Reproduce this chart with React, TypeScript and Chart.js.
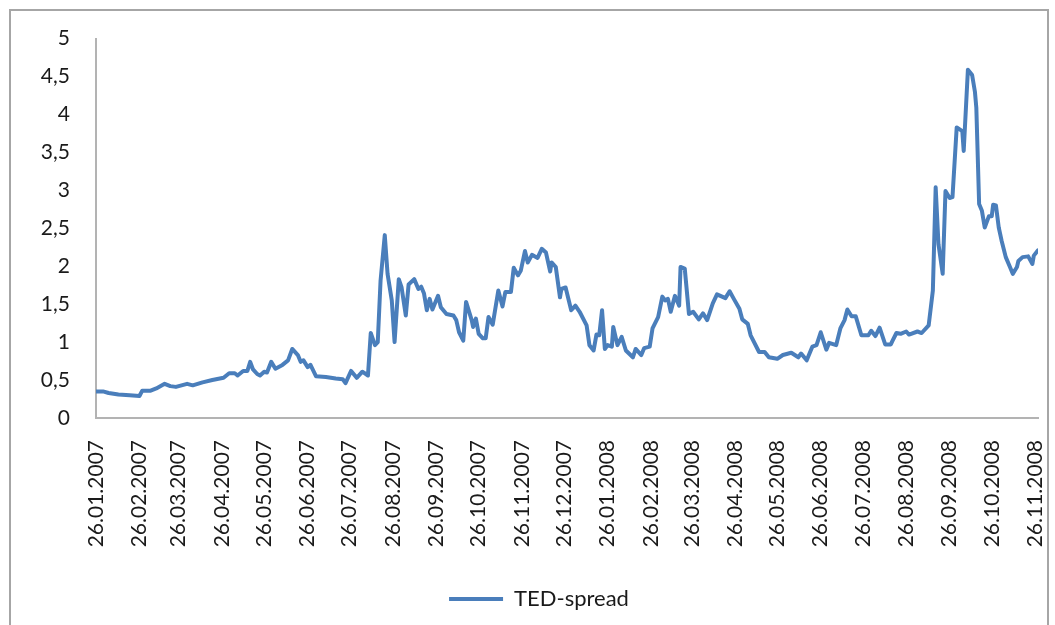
import React, { useEffect, useRef } from "react";
import { Chart, registerables } from "chart.js";

Chart.register(...registerables);

const seriesLabel = "TED-spread";

const dates: string[] = [
  "26.01.2007", "31.01.2007", "04.02.2007", "11.02.2007", "19.02.2007", "26.02.2007", "28.02.2007",
  "06.03.2007", "10.03.2007", "16.03.2007", "20.03.2007", "24.03.2007", "01.04.2007", "05.04.2007",
  "12.04.2007", "19.04.2007", "27.04.2007", "01.05.2007", "05.05.2007", "07.05.2007", "11.05.2007",
  "14.05.2007", "16.05.2007", "18.05.2007", "21.05.2007", "23.05.2007", "26.05.2007", "28.05.2007",
  "31.05.2007", "03.06.2007", "08.06.2007", "12.06.2007", "15.06.2007", "19.06.2007", "21.06.2007",
  "23.06.2007", "26.06.2007", "28.06.2007", "02.07.2007", "09.07.2007", "16.07.2007", "21.07.2007",
  "23.07.2007", "27.07.2007", "31.07.2007", "04.08.2007", "08.08.2007", "10.08.2007", "13.08.2007",
  "15.08.2007", "17.08.2007", "20.08.2007", "22.08.2007", "25.08.2007", "27.08.2007", "30.08.2007",
  "01.09.2007", "04.09.2007", "06.09.2007", "10.09.2007", "13.09.2007", "15.09.2007", "17.09.2007",
  "19.09.2007", "21.09.2007", "23.09.2007", "27.09.2007", "29.09.2007", "03.10.2007", "08.10.2007",
  "10.10.2007", "12.10.2007", "15.10.2007", "17.10.2007", "21.10.2007", "22.10.2007", "24.10.2007",
  "26.10.2007", "29.10.2007", "31.10.2007", "02.11.2007", "05.11.2007", "09.11.2007", "12.11.2007",
  "14.11.2007", "18.11.2007", "20.11.2007", "23.11.2007", "25.11.2007", "28.11.2007", "30.11.2007",
  "03.12.2007", "07.12.2007", "10.12.2007", "13.12.2007", "16.12.2007", "17.12.2007", "20.12.2007",
  "23.12.2007", "24.12.2007", "27.12.2007", "31.12.2007", "03.01.2008", "06.01.2008", "11.01.2008",
  "13.01.2008", "16.01.2008", "18.01.2008", "20.01.2008", "22.01.2008", "24.01.2008", "26.01.2008",
  "29.01.2008", "30.01.2008", "02.02.2008", "05.02.2008", "08.02.2008", "13.02.2008", "15.02.2008",
  "19.02.2008", "21.02.2008", "25.02.2008", "27.02.2008", "02.03.2008", "05.03.2008", "07.03.2008",
  "09.03.2008", "11.03.2008", "14.03.2008", "17.03.2008", "18.03.2008", "21.03.2008", "24.03.2008",
  "27.03.2008", "31.03.2008", "03.04.2008", "06.04.2008", "10.04.2008", "13.04.2008", "19.04.2008",
  "22.04.2008", "25.04.2008", "29.04.2008", "01.05.2008", "05.05.2008", "07.05.2008", "13.05.2008",
  "17.05.2008", "20.05.2008", "26.05.2008", "30.05.2008", "05.06.2008", "10.06.2008", "12.06.2008",
  "16.06.2008", "20.06.2008", "23.06.2008", "26.06.2008", "30.06.2008", "02.07.2008", "07.07.2008",
  "10.07.2008", "13.07.2008", "15.07.2008", "18.07.2008", "21.07.2008", "25.07.2008", "30.07.2008",
  "01.08.2008", "04.08.2008", "07.08.2008", "11.08.2008", "15.08.2008", "16.08.2008", "19.08.2008",
  "22.08.2008", "26.08.2008", "28.08.2008", "03.09.2008", "06.09.2008", "11.09.2008", "14.09.2008",
  "16.09.2008", "18.09.2008", "21.09.2008", "23.09.2008", "26.09.2008", "28.09.2008", "01.10.2008",
  "05.10.2008", "06.10.2008", "09.10.2008", "12.10.2008", "14.10.2008", "15.10.2008", "17.10.2008",
  "19.10.2008", "21.10.2008", "24.10.2008", "26.10.2008", "27.10.2008", "29.10.2008", "31.10.2008",
  "02.11.2008", "05.11.2008", "08.11.2008", "10.11.2008", "13.11.2008", "14.11.2008", "17.11.2008",
  "21.11.2008", "24.11.2008", "25.11.2008", "28.11.2008",
];

const tedSpread: number[] = [
  0.35, 0.35, 0.33, 0.31, 0.30, 0.29, 0.36,
  0.36, 0.39, 0.45, 0.42, 0.41, 0.45, 0.43,
  0.47, 0.50, 0.53, 0.59, 0.59, 0.56, 0.62,
  0.62, 0.74, 0.64, 0.58, 0.56, 0.61, 0.60,
  0.74, 0.65, 0.70, 0.76, 0.91, 0.83, 0.74,
  0.76, 0.67, 0.70, 0.55, 0.54, 0.52, 0.51,
  0.46, 0.62, 0.53, 0.61, 0.56, 1.12, 0.96,
  1.00, 1.81, 2.41, 1.90, 1.55, 1.00, 1.83,
  1.72, 1.35, 1.76, 1.83, 1.70, 1.73, 1.64,
  1.42, 1.57, 1.43, 1.61, 1.46, 1.37, 1.35,
  1.29, 1.13, 1.02, 1.53, 1.29, 1.20, 1.31,
  1.11, 1.05, 1.05, 1.33, 1.23, 1.68, 1.47,
  1.66, 1.66, 1.98, 1.88, 1.94, 2.20, 2.05,
  2.15, 2.11, 2.23, 2.18, 1.93, 2.05, 1.99,
  1.59, 1.70, 1.72, 1.42, 1.48, 1.40, 1.22,
  0.96, 0.89, 1.10, 1.09, 1.42, 0.91, 0.96,
  0.94, 1.20, 0.96, 1.07, 0.89, 0.80, 0.91,
  0.83, 0.92, 0.94, 1.18, 1.33, 1.60, 1.55,
  1.57, 1.40, 1.61, 1.48, 1.99, 1.97, 1.37,
  1.40, 1.30, 1.38, 1.29, 1.51, 1.63, 1.58,
  1.67, 1.57, 1.44, 1.30, 1.24, 1.09, 0.87,
  0.87, 0.80, 0.78, 0.83, 0.86, 0.80, 0.85,
  0.76, 0.94, 0.96, 1.13, 0.90, 0.99, 0.96,
  1.18, 1.29, 1.43, 1.34, 1.34, 1.09, 1.09,
  1.15, 1.08, 1.19, 0.97, 0.97, 1.01, 1.12,
  1.11, 1.14, 1.10, 1.14, 1.12, 1.22, 1.68,
  3.04, 2.29, 1.90, 2.99, 2.90, 2.91, 3.83,
  3.78, 3.52, 4.59, 4.52, 4.30, 4.09, 2.82,
  2.73, 2.51, 2.66, 2.66, 2.81, 2.80, 2.51,
  2.34, 2.12, 1.99, 1.90, 1.99, 2.07, 2.12,
  2.13, 2.03, 2.14, 2.21,
];

const tickLabels: string[] = [
  "26.01.2007", "26.02.2007", "26.03.2007", "26.04.2007", "26.05.2007", "26.06.2007",
  "26.07.2007", "26.08.2007", "26.09.2007", "26.10.2007", "26.11.2007", "26.12.2007",
  "26.01.2008", "26.02.2008", "26.03.2008", "26.04.2008", "26.05.2008", "26.06.2008",
  "26.07.2008", "26.08.2008", "26.09.2008", "26.10.2008", "26.11.2008",
];

const yTicks: number[] = [0, 0.5, 1, 1.5, 2, 2.5, 3, 3.5, 4, 4.5, 5];

const startDate = "26.01.2007";
const endDate = "28.11.2008";

function toDay(s: string): number {
  const [d, m, y] = s.split(".").map(Number);
  const [d0, m0, y0] = startDate.split(".").map(Number);
  return Math.round((Date.UTC(y, m - 1, d) - Date.UTC(y0, m0 - 1, d0)) / 86400000);
}

const FONT = "Lato, 'Open Sans', sans-serif";
const LINE_COLOR = "#4a7ebb";
const AXIS_COLOR = "#b3b3b3";
const TEXT_COLOR = "#1a1a1a";

const legendShift = {
  id: "legendShift",
  afterLayout(chart: any) {
    const l = chart.legend;
    if (l) {
      l.left += 10;
      l.right += 10;
    }
  },
};

export default function App() {
  const canvasRef = useRef<HTMLCanvasElement | null>(null);

  useEffect(() => {
    if (!canvasRef.current) return;
    const points = dates.map((d, i) => ({ x: toDay(d), y: tedSpread[i] }));
    const tickDays = tickLabels.map(toDay);
    const labelByDay = new Map<number, string>();
    tickDays.forEach((d, i) => labelByDay.set(d, tickLabels[i]));

    const chart = new Chart(canvasRef.current, {
      type: "line",
      data: {
        datasets: [
          {
            label: seriesLabel,
            data: points,
            borderColor: LINE_COLOR,
            backgroundColor: LINE_COLOR,
            borderWidth: 4,
            pointRadius: 0,
            tension: 0,
            borderJoinStyle: "round",
            borderCapStyle: "round",
          },
        ],
      },
      plugins: [legendShift],
      options: {
        responsive: false,
        animation: false,
        devicePixelRatio: 1,
        layout: { padding: { left: 20, right: 17, top: 37, bottom: 5 } },
        plugins: {
          tooltip: { enabled: false },
          legend: {
            display: true,
            position: "bottom",
            labels: {
              boxWidth: 54,
              boxHeight: 4,
              padding: 10,
              color: TEXT_COLOR,
              font: { family: FONT, size: 22 },
              generateLabels: (c: any) =>
                c.data.datasets.map((ds: any, i: number) => ({
                  text: ds.label,
                  fillStyle: ds.borderColor,
                  strokeStyle: ds.borderColor,
                  lineWidth: 0,
                  hidden: false,
                  datasetIndex: i,
                  fontColor: TEXT_COLOR,
                })),
            },
          },
        },
        scales: {
          x: {
            type: "linear",
            min: toDay(startDate),
            max: toDay(endDate),
            grid: { display: false, drawTicks: false },
            border: { display: true, color: AXIS_COLOR, width: 2 },
            afterBuildTicks: (scale: any) => {
              scale.ticks = tickDays.map((v) => ({ value: v }));
            },
            afterFit: (scale: any) => {
              scale.height = 160;
              scale.paddingLeft = 0;
              scale.paddingRight = 0;
            },
            ticks: {
              autoSkip: false,
              minRotation: 90,
              maxRotation: 90,
              padding: 22,
              color: TEXT_COLOR,
              font: { family: FONT, size: 21 },
              callback: (v: any) => labelByDay.get(Number(v)) ?? "",
            },
          },
          y: {
            type: "linear",
            min: 0,
            max: 5,
            grid: { display: false, drawTicks: false },
            border: { display: true, color: AXIS_COLOR, width: 2 },
            afterBuildTicks: (scale: any) => {
              scale.ticks = yTicks.map((v) => ({ value: v }));
            },
            afterFit: (scale: any) => {
              scale.width = 76;
            },
            ticks: {
              padding: 26,
              color: TEXT_COLOR,
              font: { family: FONT, size: 21 },
              callback: (v: any) => String(v).replace(".", ","),
            },
          },
        },
      },
    });
    return () => chart.destroy();
  }, []);

  return (
    <div
      style={{
        position: "fixed",
        left: 0,
        top: 0,
        width: 1055,
        height: 625,
        background: "#fff",
        overflow: "hidden",
      }}
    >
      <div
        style={{
          position: "absolute",
          left: 9,
          top: 9,
          width: 1040,
          height: 640,
          border: "2px solid #a6a6a6",
          boxSizing: "border-box",
        }}
      />
      <canvas
        ref={canvasRef}
        width={1055}
        height={625}
        style={{ position: "absolute", left: 0, top: 0, width: 1055, height: 625 }}
      />
    </div>
  );
}
